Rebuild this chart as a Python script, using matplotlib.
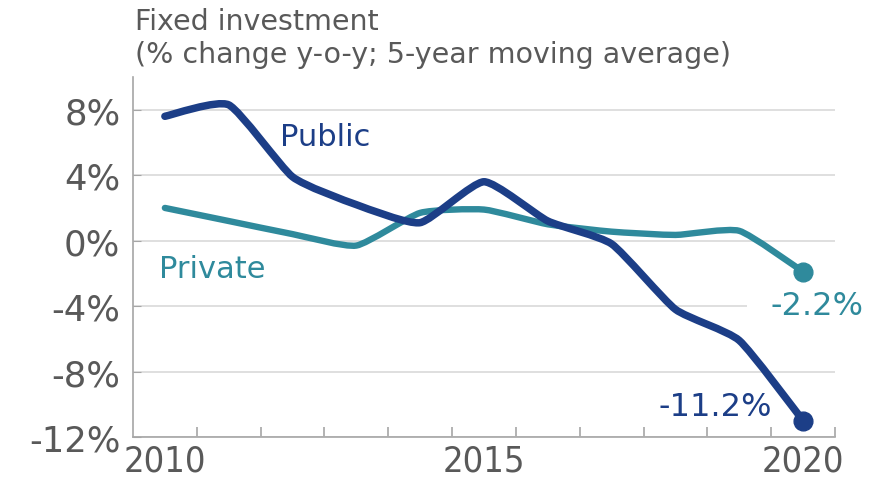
import numpy as np
import matplotlib
matplotlib.use("Agg")
import matplotlib.pyplot as plt
from matplotlib.path import Path
from matplotlib.patches import PathPatch

years = [2010, 2011, 2012, 2013, 2014, 2015, 2016, 2017, 2018, 2019, 2020]
public = [7.6, 8.3, 3.9, 2.2, 1.1, 3.6, 1.2, -0.2, -4.2, -6.1, -11.0]
private = [2.0, 1.2, 0.4, -0.3, 1.7, 1.9, 1.0, 0.55, 0.35, 0.6, -1.9]
public_label = "-11.2%"
private_label = "-2.2%"
y_ticks = [-12, -8, -4, 0, 4, 8]
x_labels = [2010, 2015, 2020]
title_lines = ["Fixed investment", "(% change y-o-y; 5-year moving average)"]

C_PUB = "#1c3e87"
C_PRI = "#2f8a9c"
C_TXT = "#595959"


def smooth_path(x, y, k=0.09):
    x = np.asarray(x, float)
    y = np.asarray(y, float)
    px = np.concatenate([[x[0]], x, [x[-1]]])
    py = np.concatenate([[y[0]], y, [y[-1]]])
    verts = [(x[0], y[0])]
    codes = [Path.MOVETO]
    for i in range(len(x) - 1):
        j = i + 1
        c1 = (px[j] + (px[j + 1] - px[j - 1]) * k, py[j] + (py[j + 1] - py[j - 1]) * k)
        c2 = (px[j + 1] - (px[j + 2] - px[j]) * k, py[j + 1] - (py[j + 2] - py[j]) * k)
        verts += [c1, c2, (x[i + 1], y[i + 1])]
        codes += [Path.CURVE4] * 3
    return Path(verts, codes)


fig = plt.figure(figsize=(8.76, 4.85), dpi=100)
ax = fig.add_axes([0.1518, 0.0969, 0.8014, 0.7422])

ax.set_xlim(2009.5, 2020.5)
ax.set_ylim(-12, 10)

for yy, col, lw in [(private, C_PRI, 4.6), (public, C_PUB, 5.4)]:
    patch = PathPatch(smooth_path(years, yy), facecolor="none", edgecolor=col,
                      lw=lw, capstyle="round", joinstyle="round", zorder=3)
    ax.add_patch(patch)
    ax.plot(years[-1], yy[-1], "o", color=col, ms=13.5, zorder=4, clip_on=False)

# grid and spines
ax.set_yticks(y_ticks)
ax.set_yticklabels([f"{v}%" for v in y_ticks])
ax.yaxis.grid(True, color="#d9d9d9", lw=1.2, zorder=0)
ax.set_axisbelow(True)
for s in ["top", "right"]:
    ax.spines[s].set_visible(False)
for s in ["left", "bottom"]:
    ax.spines[s].set_color("#a6a6a6")
    ax.spines[s].set_linewidth(1.2)

ax.tick_params(axis="y", direction="in", length=6, color="#a6a6a6",
               labelsize=25.5, labelcolor=C_TXT, pad=9)
ax.set_xticks(x_labels)
ax.set_xticklabels([str(v) for v in x_labels], fontstretch="condensed")
ax.set_xticks(np.arange(2010.5, 2020.6, 1.0), minor=True)
ax.tick_params(axis="x", which="major", length=0, labelsize=26,
               labelcolor=C_TXT, pad=5)
ax.tick_params(axis="x", which="minor", direction="in", length=7,
               color="#a6a6a6", width=1.2)
for t in ax.get_xticklabels():
    t.set_fontstretch("condensed")

# annotations
ax.text(2011.81, 5.84, "Public", color=C_PUB, fontsize=22, ha="left", va="baseline")
ax.text(2009.9, -2.21, "Private", color=C_PRI, fontsize=22, ha="left", va="baseline")
ax.text(2020.95, -4.47, private_label, color=C_PRI, fontsize=23, ha="right",
        va="baseline", clip_on=False, zorder=2,
        bbox=dict(boxstyle="square,pad=0.75", facecolor="white", edgecolor="none"))
ax.text(2019.52, -10.67, public_label, color=C_PUB, fontsize=23, ha="right",
        va="baseline", zorder=2)

fig.text(0.154, 1 - 30 / 485, title_lines[0], color=C_TXT, fontsize=20.5, va="baseline")
fig.text(0.154, 1 - 63 / 485, title_lines[1], color=C_TXT, fontsize=20.5, va="baseline")

fig.savefig("out.png", dpi=100)
